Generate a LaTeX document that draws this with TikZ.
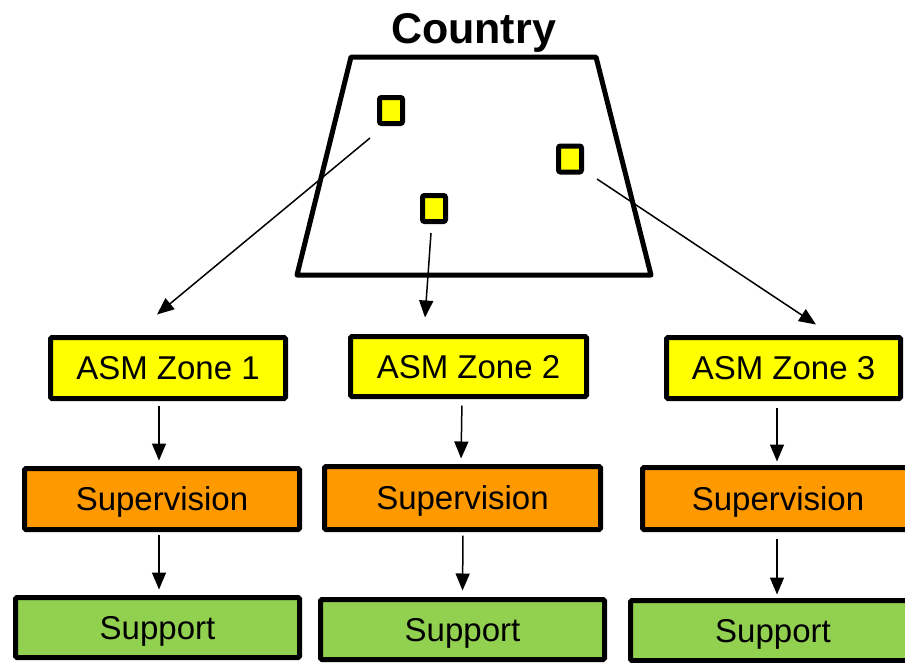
\documentclass[tikz,border=0pt]{standalone}
\usepackage{fontspec}
\setmainfont{Liberation Sans}
\usetikzlibrary{arrows.meta,calc}

\definecolor{zoneyellow}{RGB}{255,255,0}
\definecolor{superorange}{RGB}{255,153,0}
\definecolor{supportgreen}{RGB}{146,208,80}

\begin{document}
\begin{tikzpicture}[x=1pt,y=-1pt,
  box/.style={draw, line width=5pt, rounded corners=1.5pt, inner sep=0pt, text height=23.6pt, text depth=0pt, font=\fontsize{33}{38}\selectfont},
  zone/.style={box, fill=zoneyellow},
  super/.style={box, fill=superorange},
  support/.style={box, fill=supportgreen},
  site/.style={draw, line width=5pt, rounded corners=2pt, fill=zoneyellow, minimum width=23pt, minimum height=26pt, inner sep=0pt},
  conn/.style={line width=1.5pt, -{Triangle[width=14pt,length=17pt]}}]

\useasboundingbox (0,0) rectangle (905,662);
\clip (0,0) rectangle (905,662);

\node[anchor=base, font=\fontsize{43}{50}\selectfont\bfseries] (title) at (473.5,43) {Country};

\draw [line width=5pt, line join=round] (351,57) -- (596,57) -- (651,275) -- (297,275) -- cycle;

\node[site] (sq1) at (391,110.5) {};
\node[site] (sq2) at (434,208.5) {};
\node[site] (sq3) at (570,159) {};

\node[zone, minimum width=235pt, minimum height=61pt] (z1) at (168,368) {ASM Zone 1};
\node[zone, minimum width=236pt, minimum height=60pt] (z2) at (468.5,366.5) {ASM Zone 2};
\node[zone, minimum width=234pt, minimum height=61pt] (z3) at (783.5,368) {ASM Zone 3};

\node[super, minimum width=275pt, minimum height=61pt] (sv1) at (162,499) {Supervision};
\node[super, minimum width=276pt, minimum height=63pt] (sv2) at (462.5,498) {Supervision};
\node[super, minimum width=271pt, minimum height=62pt] (sv3) at (778,498.5) {Supervision};

\node[support, minimum width=284pt, minimum height=60pt] (sp1) at (157.5,627.5) {Support};
\node[support, minimum width=284pt, minimum height=60pt] (sp2) at (462.5,629.5) {Support};
\node[support, minimum width=285pt, minimum height=60pt] (sp3) at (773,630.5) {Support};

\draw [conn] ($(sq1)+(-21,27.5)$) -- ($(z1.north)+(-11,-20.5)$);
\draw [conn] ($(sq2)+(-3,24.5)$) -- ($(z2.north)+(-43.5,-16.5)$);
\draw [conn] ($(sq3)+(27,20)$) -- ($(z3.north)+(32.5,-10.5)$);

\draw [conn, shorten <=4.5pt, shorten >=5.5pt] ([xshift=-9pt]z1.south) -- ([xshift=-3pt]sv1.north);
\draw [conn, shorten <=2.5pt, shorten >=5.5pt] ([xshift=-3pt]sv1.south) -- ([xshift=1.5pt]sp1.north);
\draw [conn, shorten <=6.5pt, shorten >=5.5pt] ([xshift=-6.5pt]z2.south) -- ([xshift=-1.5pt]sv2.north);
\draw [conn, shorten <=3.5pt, shorten >=6.5pt] ([xshift=0.5pt]sv2.south) -- (sp2.north);
\draw [conn, shorten <=6.5pt, shorten >=3.5pt] ([xshift=-6.5pt]z3.south) -- ([xshift=-1pt]sv3.north);
\draw [conn, shorten <=7pt, shorten >=3.5pt] ([xshift=-1pt]sv3.south) -- ([xshift=4pt]sp3.north);

\end{tikzpicture}
\end{document}
